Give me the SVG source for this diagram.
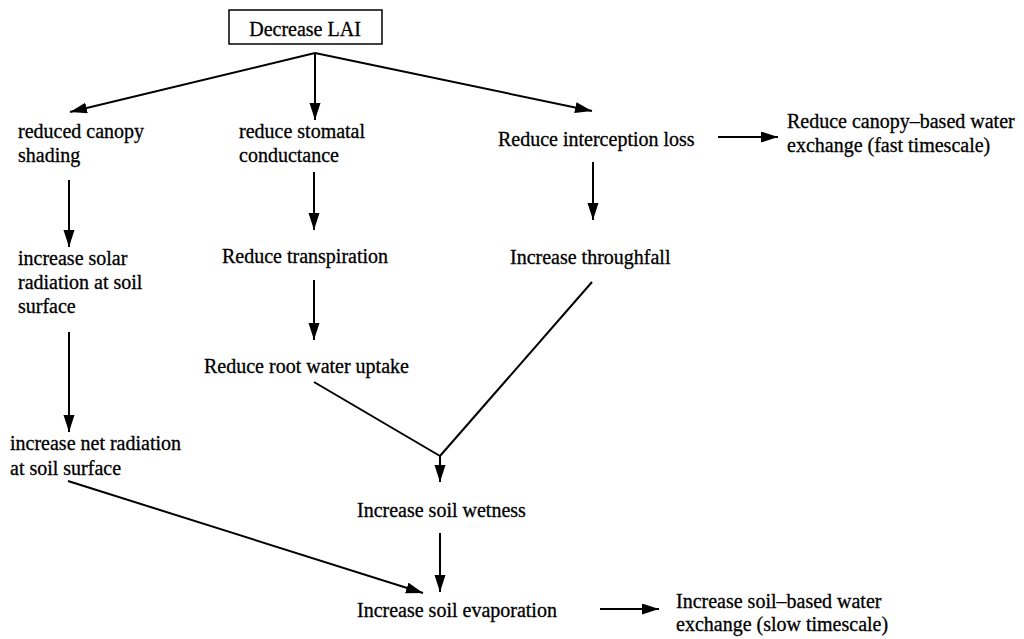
<svg xmlns="http://www.w3.org/2000/svg" width="1024" height="639" viewBox="0 0 1024 639">
<defs>
<style>
text{font-family:"Liberation Serif","Times New Roman",serif;font-size:20px;fill:#000;stroke:#000;stroke-width:0.3}
.c{stroke:#000;stroke-width:2;fill:none}
.a{marker-end:url(#ah)}
</style>
<marker id="ah" markerUnits="userSpaceOnUse" markerWidth="18" markerHeight="12" refX="17" refY="5.5" orient="auto" viewBox="0 0 18 12">
<path d="M0,0 L17,5.5 L0,11 z" fill="#000"/>
</marker>
</defs>
<rect width="1024" height="639" fill="#fff"/>
<g id="connectors">
<line class="c a" x1="315" y1="53" x2="70" y2="112"/>
<line class="c a" x1="315" y1="53" x2="315" y2="120"/>
<line class="c a" x1="315" y1="53" x2="592" y2="111"/>
<line class="c a" x1="69" y1="180" x2="69" y2="247"/>
<line class="c a" x1="314" y1="172" x2="314" y2="230"/>
<line class="c a" x1="593" y1="162" x2="593" y2="220"/>
<line class="c a" x1="718" y1="137" x2="778" y2="137"/>
<line class="c a" x1="69" y1="332" x2="69" y2="432"/>
<line class="c a" x1="314" y1="280" x2="314" y2="340"/>
<line class="c" x1="314" y1="382" x2="440" y2="456"/>
<line class="c" x1="592" y1="282" x2="440" y2="456"/>
<line class="c a" x1="440" y1="456" x2="440" y2="482"/>
<line class="c a" x1="440" y1="533" x2="440" y2="592"/>
<line class="c a" x1="68" y1="481" x2="423" y2="593"/>
<line class="c a" x1="600" y1="609" x2="659" y2="609"/>
</g>
<g id="n-lai">
<rect x="229" y="10" width="153" height="34" fill="#fff" stroke="#000" stroke-width="1.5"/>
<text x="305" y="36" text-anchor="middle">Decrease LAI</text>
</g>
<g id="n-shading"><text x="18" y="138">reduced canopy</text><text x="18" y="162">shading</text></g>
<g id="n-stomatal"><text x="239" y="138">reduce stomatal</text><text x="239" y="162">conductance</text></g>
<g id="n-interception"><text x="498" y="146">Reduce interception loss</text></g>
<g id="n-canopy-exchange"><text x="787" y="128">Reduce canopy–based water</text><text x="787" y="152">exchange (fast timescale)</text></g>
<g id="n-solar"><text x="18" y="265">increase solar</text><text x="18" y="289">radiation at soil</text><text x="18" y="313">surface</text></g>
<g id="n-transpiration"><text x="222" y="263">Reduce transpiration</text></g>
<g id="n-throughfall"><text x="510" y="264">Increase throughfall</text></g>
<g id="n-root"><text x="204" y="373">Reduce root water uptake</text></g>
<g id="n-netrad"><text x="10" y="450">increase net radiation</text><text x="10" y="475">at soil surface</text></g>
<g id="n-wetness"><text x="357" y="517">Increase soil wetness</text></g>
<g id="n-evaporation"><text x="357" y="617">Increase soil evaporation</text></g>
<g id="n-soil-exchange"><text x="676" y="608">Increase soil–based water</text><text x="676" y="631">exchange (slow timescale)</text></g>
</svg>
